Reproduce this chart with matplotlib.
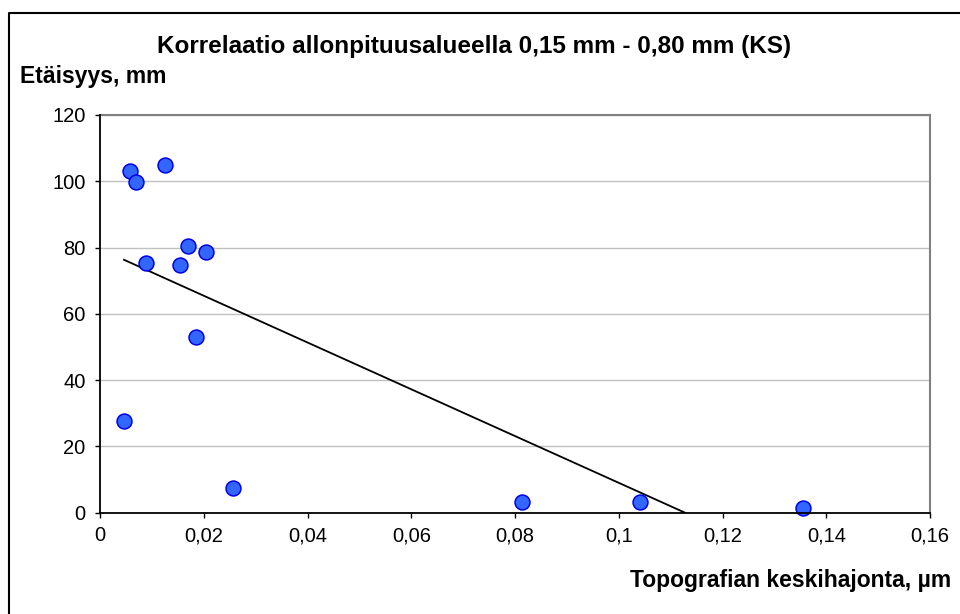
import numpy as np
import matplotlib
matplotlib.use("Agg")
import matplotlib.pyplot as plt
from matplotlib.lines import Line2D
from matplotlib.ticker import FuncFormatter

# Topografian keskihajonta (um) vs. etaisyys (mm)
std_dev = [0.00457, 0.00567, 0.00683, 0.00875, 0.01248, 0.01543, 0.0169,
           0.01846, 0.0203, 0.02553, 0.0813, 0.1041, 0.1355]
distance = [27.6, 103.0, 99.8, 75.3, 104.8, 74.7, 80.4,
            53.1, 78.7, 7.5, 3.1, 3.1, 1.4]

x_ticks = [0, 0.02, 0.04, 0.06, 0.08, 0.1, 0.12, 0.14, 0.16]
y_ticks = [0, 20, 40, 60, 80, 100, 120]

title = "Korrelaatio allonpituusalueella 0,15 mm - 0,80 mm (KS)"
y_label = "Etäisyys, mm"
x_label = "Topografian keskihajonta, µm"

plt.rcParams["font.family"] = ["Liberation Sans", "DejaVu Sans"]

W, H = 960, 614
fig = plt.figure(figsize=(W / 100, H / 100), dpi=100)
ax = fig.add_axes([100.3 / W, 101.3 / H, (930 - 100.3) / W, (512.7 - 115) / H])

# grid lines
for y in y_ticks[1:]:
    ax.axhline(y, color="#c0c0c0", lw=1.0, zorder=0)

# linear trend line (Excel style), clipped at y=0
slope, intercept = np.polyfit(std_dev, distance, 1)
x0 = min(std_dev)
x1 = -intercept / slope
ax.plot([x0, x1], [slope * x0 + intercept, 0], color="black", lw=1.3, zorder=2)

ax.scatter(std_dev, distance, s=115, color="#3366ff", edgecolor="#0000ee",
           linewidth=1.1, zorder=3, clip_on=False)

ax.set_xlim(0, 0.16)
ax.set_ylim(0, 120)
ax.set_xticks(x_ticks)
ax.set_yticks(y_ticks)
ax.xaxis.set_major_formatter(FuncFormatter(lambda v, p: ("%g" % v).replace(".", ",")))
ax.tick_params(axis="both", direction="out", length=3.6, width=1, labelsize=14.5,
               color="black", labelcolor="black")
ax.tick_params(axis="x", pad=6)
ax.tick_params(axis="y", pad=7)

for side in ("left", "bottom"):
    ax.spines[side].set_color("black")
    ax.spines[side].set_linewidth(1.3)
    ax.spines[side].set_zorder(4)
for side in ("top", "right"):
    ax.spines[side].set_color("#808080")
    ax.spines[side].set_linewidth(1.5)

fig.text(474 / W, 1 - 46 / H, title, ha="center", va="center",
         fontsize=17.5, fontweight="bold")
fig.text(20 / W, 1 - 77 / H, y_label, ha="left", va="center",
         fontsize=16.5, fontweight="bold")
fig.text(951 / W, 1 - 580 / H, x_label, ha="right", va="center",
         fontsize=16.5, fontweight="bold")

# outer chart frame (only left/top visible)
fx, fy = 8.5 / W, 1 - 12.5 / H
fig.add_artist(Line2D([fx, fx, 1.01], [-0.01, fy, fy], transform=fig.transFigure,
                      color="black", lw=1.5))

fig.savefig("out.png", dpi=100)
